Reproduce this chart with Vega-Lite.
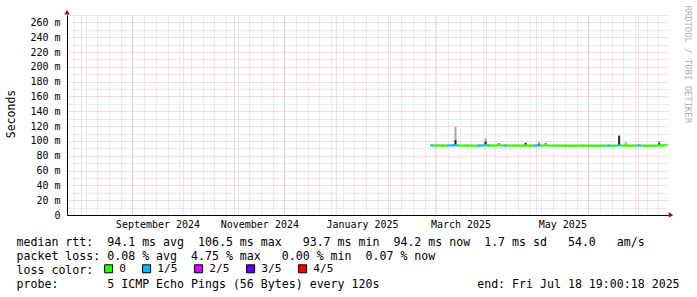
{
  "$schema": "https://vega.github.io/schema/vega-lite/v6.json",
  "width": 601,
  "height": 200,
  "autosize": "none",
  "padding": {"left": 67, "top": 15, "right": 29, "bottom": 82},
  "background": "white",
  "config": {
    "view": {"stroke": null},
    "font": "DejaVu Sans Mono"
  },
  "title": {
    "text": [
      "median rtt:\u00a0\u00a094.1 ms avg\u00a0\u00a0106.5 ms max\u00a0\u00a0\u00a093.7 ms min\u00a0\u00a094.2 ms now\u00a0\u00a01.7 ms sd\u00a0\u00a0\u00a054.0\u00a0\u00a0\u00a0am/s",
      "packet loss: 0.08 % avg\u00a0\u00a04.75 % max\u00a0\u00a0\u00a00.00 % min\u00a0\u00a00.07 % now",
      "loss color:",
      "probe:\u00a0\u00a0\u00a0\u00a0\u00a0\u00a0\u00a05 ICMP Echo Pings (56 Bytes) every 120s\u00a0\u00a0\u00a0\u00a0\u00a0\u00a0\u00a0\u00a0\u00a0\u00a0\u00a0\u00a0\u00a0\u00a0end: Fri Jul 18 19:00:18 2025"
    ],
    "orient": "bottom",
    "anchor": "start",
    "frame": "group",
    "dx": -50.5,
    "dy": -38,
    "offset": 0,
    "baseline": "top",
    "lineHeight": 14,
    "font": "DejaVu Sans Mono",
    "fontSize": 11.6,
    "fontWeight": "normal",
    "color": "#000000"
  },
  "datasets": {
    "rtt": [
      {"t": "2025-02-27T12:00:00", "m": 93.9, "l": "1/5"},
      {"t": "2025-03-01T12:00:00", "m": 93.8, "l": "0"},
      {"t": "2025-03-03T12:00:00", "m": 93.9, "l": "0"},
      {"t": "2025-03-05T12:00:00", "m": 93.8, "l": "0"},
      {"t": "2025-03-07T12:00:00", "m": 93.7, "l": "0"},
      {"t": "2025-03-09T12:00:00", "m": 93.9, "l": "1/5"},
      {"t": "2025-03-11T12:00:00", "m": 94.0, "l": "1/5"},
      {"t": "2025-03-13T12:00:00", "m": 94.1, "l": "1/5", "lo": 94.1, "hi": 119, "dlo": 94.1, "dhi": 101},
      {"t": "2025-03-15T12:00:00", "m": 93.8, "l": "0"},
      {"t": "2025-03-17T12:00:00", "m": 93.7, "l": "0"},
      {"t": "2025-03-19T12:00:00", "m": 93.8, "l": "0"},
      {"t": "2025-03-21T12:00:00", "m": 93.7, "l": "0"},
      {"t": "2025-03-23T12:00:00", "m": 93.8, "l": "0"},
      {"t": "2025-03-25T12:00:00", "m": 93.7, "l": "0"},
      {"t": "2025-03-27T12:00:00", "m": 93.8, "l": "1/5"},
      {"t": "2025-03-29T12:00:00", "m": 93.9, "l": "1/5"},
      {"t": "2025-03-31T12:00:00", "m": 94.0, "l": "0", "lo": 94.0, "hi": 103.5, "dlo": 94.0, "dhi": 99},
      {"t": "2025-04-02T12:00:00", "m": 93.8, "l": "1/5"},
      {"t": "2025-04-04T12:00:00", "m": 93.8, "l": "0"},
      {"t": "2025-04-06T12:00:00", "m": 93.7, "l": "0"},
      {"t": "2025-04-08T12:00:00", "m": 94.6, "l": "0", "dlo": 94.6, "dhi": 96.7},
      {"t": "2025-04-10T12:00:00", "m": 93.8, "l": "0"},
      {"t": "2025-04-12T12:00:00", "m": 93.8, "l": "1/5"},
      {"t": "2025-04-14T12:00:00", "m": 93.7, "l": "0"},
      {"t": "2025-04-16T12:00:00", "m": 93.8, "l": "0"},
      {"t": "2025-04-18T12:00:00", "m": 93.8, "l": "0"},
      {"t": "2025-04-20T12:00:00", "m": 93.7, "l": "0"},
      {"t": "2025-04-22T12:00:00", "m": 93.7, "l": "0"},
      {"t": "2025-04-24T12:00:00", "m": 93.9, "l": "0", "dlo": 93.9, "dhi": 97.6},
      {"t": "2025-04-26T12:00:00", "m": 93.7, "l": "0"},
      {"t": "2025-04-28T12:00:00", "m": 93.7, "l": "0"},
      {"t": "2025-04-30T12:00:00", "m": 93.8, "l": "1/5"},
      {"t": "2025-05-02T12:00:00", "m": 93.9, "l": "1/5", "lo": 93.9, "hi": 99, "dlo": 93.9, "dhi": 96},
      {"t": "2025-05-04T12:00:00", "m": 93.7, "l": "0"},
      {"t": "2025-05-06T12:00:00", "m": 94.5, "l": "0", "dlo": 94.5, "dhi": 96.7},
      {"t": "2025-05-08T12:00:00", "m": 93.7, "l": "0"},
      {"t": "2025-05-10T12:00:00", "m": 93.6, "l": "0"},
      {"t": "2025-05-12T12:00:00", "m": 93.8, "l": "0"},
      {"t": "2025-05-14T12:00:00", "m": 93.7, "l": "0"},
      {"t": "2025-05-16T12:00:00", "m": 93.6, "l": "0"},
      {"t": "2025-05-18T12:00:00", "m": 93.7, "l": "0"},
      {"t": "2025-05-20T12:00:00", "m": 93.7, "l": "0"},
      {"t": "2025-05-22T12:00:00", "m": 93.6, "l": "0"},
      {"t": "2025-05-24T12:00:00", "m": 93.7, "l": "0"},
      {"t": "2025-05-26T12:00:00", "m": 93.6, "l": "0"},
      {"t": "2025-05-28T12:00:00", "m": 93.7, "l": "0"},
      {"t": "2025-05-30T12:00:00", "m": 93.6, "l": "0"},
      {"t": "2025-06-01T12:00:00", "m": 93.6, "l": "0"},
      {"t": "2025-06-03T12:00:00", "m": 93.7, "l": "0"},
      {"t": "2025-06-05T12:00:00", "m": 93.6, "l": "0"},
      {"t": "2025-06-07T12:00:00", "m": 93.6, "l": "0"},
      {"t": "2025-06-09T12:00:00", "m": 93.7, "l": "0"},
      {"t": "2025-06-11T12:00:00", "m": 93.6, "l": "0"},
      {"t": "2025-06-13T12:00:00", "m": 93.7, "l": "1/5"},
      {"t": "2025-06-15T12:00:00", "m": 93.6, "l": "0"},
      {"t": "2025-06-17T12:00:00", "m": 93.7, "l": "0"},
      {"t": "2025-06-19T12:00:00", "m": 94.2, "l": "1/5", "lo": 94.2, "hi": 108, "dlo": 94.2, "dhi": 106.6},
      {"t": "2025-06-21T12:00:00", "m": 93.7, "l": "0"},
      {"t": "2025-06-23T12:00:00", "m": 93.8, "l": "0", "lo": 93.8, "hi": 98.5},
      {"t": "2025-06-25T12:00:00", "m": 93.6, "l": "0"},
      {"t": "2025-06-27T12:00:00", "m": 93.7, "l": "0"},
      {"t": "2025-06-29T12:00:00", "m": 93.7, "l": "0"},
      {"t": "2025-07-01T12:00:00", "m": 94.0, "l": "1/5"},
      {"t": "2025-07-03T12:00:00", "m": 93.7, "l": "0"},
      {"t": "2025-07-05T12:00:00", "m": 93.6, "l": "0"},
      {"t": "2025-07-07T12:00:00", "m": 93.7, "l": "0"},
      {"t": "2025-07-09T12:00:00", "m": 93.6, "l": "0"},
      {"t": "2025-07-11T12:00:00", "m": 93.7, "l": "0"},
      {"t": "2025-07-13T12:00:00", "m": 93.9, "l": "0", "lo": 93.9, "hi": 100, "dlo": 93.9, "dhi": 97},
      {"t": "2025-07-15T12:00:00", "m": 93.8, "l": "0"},
      {"t": "2025-07-17T12:00:00", "m": 94.2, "l": "0"}
    ],
    "arrows": [
      {"t": "2024-07-23T19:00:18", "v": 274, "s": "up"},
      {"t": "2025-07-20T14:00:00", "v": 0, "s": "right"}
    ]
  },
  "resolve": {"axis": {"x": "independent", "y": "independent"}},
  "layer": [
    {
      "data": {"name": "rtt"},
      "transform": [{"filter": "isValid(datum.hi)"}],
      "mark": {"type": "rule", "strokeWidth": 2, "color": "#a8a8a8"},
      "encoding": {
        "x": {
          "field": "t", "type": "temporal",
          "scale": {"domain": [{"year": 2024, "month": 7, "date": 23, "hours": 19, "minutes": 0, "seconds": 18}, {"year": 2025, "month": 7, "date": 18, "hours": 19, "minutes": 0, "seconds": 18}]},
          "axis": {"orient": "bottom", "tickCount": {"interval": "week", "step": 1}, "grid": true, "gridColor": "#b4b4b4", "gridDash": [1, 1], "gridOpacity": 0.5, "labels": false, "ticks": false, "domain": false, "title": null}
        },
        "y": {
          "field": "lo", "type": "quantitative",
          "scale": {"domain": [0, 270], "nice": false, "zero": false},
          "axis": {"orient": "left", "values": [10, 30, 50, 70, 90, 110, 130, 150, 170, 190, 210, 230, 250, 270], "grid": true, "gridColor": "#b4b4b4", "gridDash": [1, 1], "gridOpacity": 0.5, "labels": false, "ticks": false, "domain": false, "title": null}
        },
        "y2": {"field": "hi"}
      }
    },
    {
      "data": {"name": "rtt"},
      "transform": [{"filter": "isValid(datum.dhi)"}],
      "mark": {"type": "rule", "strokeWidth": 2, "color": "#282828"},
      "encoding": {
        "x": {
          "field": "t", "type": "temporal",
          "scale": {"domain": [{"year": 2024, "month": 7, "date": 23, "hours": 19, "minutes": 0, "seconds": 18}, {"year": 2025, "month": 7, "date": 18, "hours": 19, "minutes": 0, "seconds": 18}]},
          "axis": null
        },
        "y": {"field": "dlo", "type": "quantitative", "scale": {"domain": [0, 270], "nice": false, "zero": false}, "axis": null},
        "y2": {"field": "dhi"}
      }
    },
    {
      "data": {"name": "rtt"},
      "mark": {"type": "tick", "orient": "horizontal", "thickness": 2.2, "size": 3.6, "opacity": 1},
      "encoding": {
        "x": {
          "field": "t", "type": "temporal",
          "scale": {"domain": [{"year": 2024, "month": 7, "date": 23, "hours": 19, "minutes": 0, "seconds": 18}, {"year": 2025, "month": 7, "date": 18, "hours": 19, "minutes": 0, "seconds": 18}]},
          "axis": {"orient": "bottom", "tickCount": {"interval": "month", "step": 1}, "grid": true, "gridColor": "#ec8080", "gridDash": [1, 1], "gridOpacity": 0.55, "labels": false, "ticks": false, "domain": false, "title": null}
        },
        "y": {
          "field": "m", "type": "quantitative",
          "scale": {"domain": [0, 270], "nice": false, "zero": false},
          "axis": {
            "orient": "left",
            "values": [0, 20, 40, 60, 80, 100, 120, 140, 160, 180, 200, 220, 240, 260],
            "grid": true, "gridColor": "#ec8080", "gridDash": [1, 1], "gridOpacity": 0.55,
            "ticks": false,
            "domain": true, "domainColor": "#000000", "domainWidth": 1,
            "labelExpr": "datum.value == 0 ? '0' : datum.value + ' m'",
            "labelFont": "DejaVu Sans Mono", "labelFontSize": 10, "labelColor": "#000000", "labelPadding": 7,
            "title": "Seconds",
            "titleFont": "DejaVu Sans Mono", "titleFontSize": 11.5, "titleFontWeight": "normal", "titleColor": "#000000",
            "titleX": -56, "titleY": 98.5, "titleAngle": -90, "titleAlign": "center", "titleBaseline": "middle"
          }
        },
        "color": {
          "field": "l", "type": "nominal",
          "scale": {"domain": ["0", "1/5", "2/5", "3/5", "4/5"], "range": ["#26ff00", "#00b8ff", "#dd00ff", "#5e00ff", "#ff0000"]},
          "legend": {
            "orient": "none", "legendX": 36, "legendY": 248,
            "direction": "horizontal", "columns": 5, "title": null, "padding": 0,
            "symbolType": "square", "symbolSize": 64, "symbolStrokeColor": "#000000", "symbolStrokeWidth": 1, "symbolOpacity": 1,
            "labelFont": "DejaVu Sans Mono", "labelFontSize": 11.2, "labelColor": "#000000", "labelOffset": 5,
            "columnPadding": 14,
            "encode": {"symbols": {"update": {"stroke": {"value": "#000000"}, "strokeWidth": {"value": 1}, "opacity": {"value": 1}}}}
          }
        }
      }
    },
    {
      "data": {"name": "arrows"},
      "mark": {"type": "point", "filled": true, "size": 30, "opacity": 1, "color": "#a01010"},
      "encoding": {
        "x": {
          "field": "t", "type": "temporal",
          "scale": {"domain": [{"year": 2024, "month": 7, "date": 23, "hours": 19, "minutes": 0, "seconds": 18}, {"year": 2025, "month": 7, "date": 18, "hours": 19, "minutes": 0, "seconds": 18}]},
          "axis": {
            "orient": "bottom",
            "values": [{"year": 2024, "month": 9, "date": 16}, {"year": 2024, "month": 11, "date": 16}, {"year": 2025, "month": 1, "date": 16, "hours": 12}, {"year": 2025, "month": 3, "date": 16, "hours": 12}, {"year": 2025, "month": 5, "date": 16, "hours": 12}],
            "format": "%B %Y",
            "grid": false, "ticks": false,
            "domain": true, "domainColor": "#000000", "domainWidth": 1,
            "labelFont": "DejaVu Sans Mono", "labelFontSize": 10, "labelColor": "#000000", "labelPadding": 4,
            "title": null
          }
        },
        "y": {
          "field": "v", "type": "quantitative",
          "scale": {"domain": [0, 270], "nice": false, "zero": false},
          "axis": {
            "orient": "right", "labels": false, "ticks": false, "domain": false, "grid": false,
            "title": "RRDTOOL / TOBI OETIKER",
            "titleFont": "DejaVu Sans Mono", "titleFontSize": 8.9, "titleFontWeight": "normal", "titleColor": "#b0b0b0",
            "titleAngle": 90, "titleAlign": "left", "titleBaseline": "middle", "titleX": 19, "titleY": -10
          }
        },
        "shape": {
          "field": "s", "type": "nominal",
          "scale": {"domain": ["up", "right"], "range": ["triangle-up", "triangle-right"]},
          "legend": null
        }
      }
    }
  ]
}
